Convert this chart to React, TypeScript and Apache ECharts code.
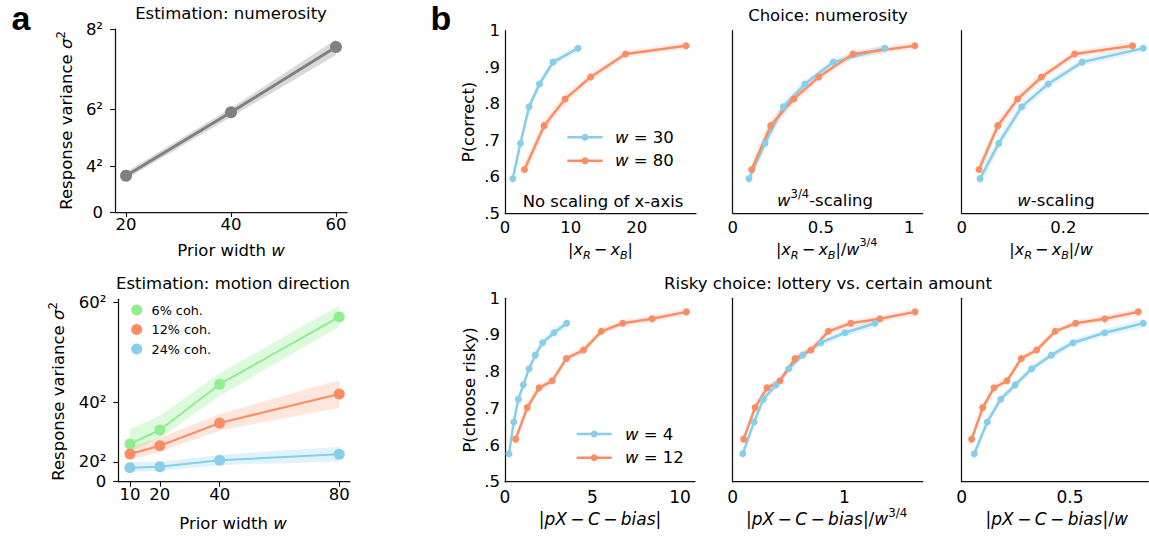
import React, { useEffect, useRef } from 'react';
import * as echarts from 'echarts';

const F = 'DejaVu Sans';
const BLUE = '#87CEEB';
const ORANGE = '#FC8D62';
const GREEN = '#90EE90';
const GRAY = '#808080';
const AX = '#111111';

// ---------- Panel a (top): numerosity estimation ----------
const numWidths = [20, 40, 60];
const numVar = [12.7, 34.9, 57.7];
const numVarLo = [11.5, 33.2, 54.9];
const numVarHi = [14.0, 36.4, 60.3];
const numWidthTicks = [20, 40, 60];
const numVarTicks = [0, 16, 36, 64];
const numVarTickLabels = ['0', '4²', '6²', '8²'];

// ---------- Panel a (bottom): motion direction ----------
const motionWidths = [10, 20, 40, 80];
const motionWidthTicks = [10, 20, 40, 80];
const motionVarTicks = [0, 400, 1600, 3600];
const motionVarTickLabels = ['0', '20²', '40²', '60²'];
const cohNames = ['6% coh.', '12% coh.', '24% coh.'];
const coh6 = [758, 1040, 1960, 3313];
const coh6Lo = [600, 880, 1724, 3119];
const coh6Hi = [1060, 1328, 2181, 3541];
const coh12 = [557, 724, 1181, 1765];
const coh12Lo = [437, 604, 1026, 1489];
const coh12Hi = [704, 885, 1362, 2046];
const coh24 = [282, 302, 430, 551];
const coh24Lo = [201, 215, 336, 402];
const coh24Hi = [402, 402, 537, 704];

// ---------- Panel b (top): choice numerosity ----------
const numY30 = [0.595, 0.692, 0.792, 0.854, 0.914, 0.952];
const numY80 = [0.620, 0.740, 0.813, 0.873, 0.936, 0.959];
const numSE30 = [0.02, 0.018, 0.015, 0.012, 0.01, 0.01];
const numSE80 = [0.02, 0.018, 0.015, 0.012, 0.01, 0.01];
const numRawX30 = [1.18, 2.35, 3.67, 5.23, 7.30, 11.09];
const numRawX80 = [2.95, 5.94, 9.12, 13.0, 18.3, 27.5];
const num34X30 = [0.092, 0.183, 0.287, 0.409, 0.570, 0.862];
const num34X80 = [0.108, 0.215, 0.345, 0.487, 0.681, 1.032];
const numWX30 = [0.036, 0.073, 0.118, 0.170, 0.237, 0.357];
const numWX80 = [0.034, 0.071, 0.110, 0.157, 0.222, 0.336];

// ---------- Panel b (bottom): risky choice ----------
const riskY4 = [0.576, 0.663, 0.725, 0.764, 0.808, 0.845, 0.879, 0.906, 0.932];
const riskY12 = [0.616, 0.702, 0.756, 0.775, 0.836, 0.859, 0.910, 0.932, 0.944, 0.963];
const riskSE4 = [0.012, 0.012, 0.011, 0.01, 0.01, 0.01, 0.01, 0.01, 0.012];
const riskSE12 = [0.012, 0.012, 0.011, 0.01, 0.01, 0.01, 0.01, 0.01, 0.01, 0.01];
const riskRawX4 = [0.23, 0.50, 0.76, 1.05, 1.37, 1.73, 2.15, 2.80, 3.53];
const riskRawX12 = [0.61, 1.27, 1.95, 2.70, 3.51, 4.49, 5.51, 6.73, 8.41, 10.37];
const risk34X4 = [0.090, 0.191, 0.274, 0.388, 0.501, 0.627, 0.788, 1.005, 1.274];
const risk34X12 = [0.098, 0.200, 0.307, 0.423, 0.558, 0.701, 0.856, 1.056, 1.318, 1.632];
const riskWX4 = [0.058, 0.118, 0.180, 0.247, 0.323, 0.414, 0.514, 0.660, 0.838];
const riskWX12 = [0.046, 0.097, 0.149, 0.209, 0.275, 0.346, 0.431, 0.526, 0.660, 0.815];

const bXTicks = [[0, 10, 20], [0, 0.5, 1], [0, 0.2], [0, 5, 10], [0, 1], [0, 0.5]];
const bXMax = [29.0, 1.076, 0.367, 10.86, 1.70, 0.861];

const FS = 16.5;
const TS = '\u2009';
const MINUS = `{n|${TS}−${TS}}`;

const richBase = (fs: number) => ({
  n: { fontSize: fs, fontFamily: F, lineHeight: 24, verticalAlign: 'middle', fill: '#000' },
  i: { fontSize: fs, fontFamily: F, fontStyle: 'italic', lineHeight: 24, verticalAlign: 'middle', fill: '#000' },
  sub: { fontSize: fs * 0.7, fontFamily: F, fontStyle: 'italic', lineHeight: 13, verticalAlign: 'bottom', fill: '#000' },
  sup: { fontSize: fs * 0.7, fontFamily: F, lineHeight: 13, verticalAlign: 'top', fill: '#000' },
});

function txt(x: number, y: number, text: string, opts: any = {}) {
  const fs = opts.fontSize || FS;
  return {
    type: 'text',
    x,
    y,
    rotation: opts.rotation || 0,
    silent: true,
    z: 100,
    style: {
      text,
      x: 0,
      y: 0,
      fill: '#000',
      fontSize: fs,
      fontFamily: opts.fontFamily || F,
      fontWeight: opts.fontWeight || 'normal',
      align: opts.align || 'center',
      verticalAlign: 'middle',
      rich: richBase(fs),
    },
  };
}

function band(idx: number, xs: number[], lo: number[], hi: number[], color: string, opacity = 0.22) {
  return {
    type: 'custom',
    xAxisIndex: idx,
    yAxisIndex: idx,
    silent: true,
    z: 1,
    data: [[xs[0], lo[0]]],
    renderItem: (_p: any, api: any) => {
      const up = xs.map((x, i) => api.coord([x, hi[i]]));
      const dn = xs.map((x, i) => api.coord([x, lo[i]])).reverse();
      return {
        type: 'polygon',
        shape: { points: up.concat(dn) },
        style: { fill: color, opacity },
      };
    },
  };
}

function line(idx: number, xs: number[], ys: number[], color: string, width: number, size: number, name: string) {
  return {
    type: 'line',
    name,
    xAxisIndex: idx,
    yAxisIndex: idx,
    z: 3,
    data: xs.map((x, i) => [x, ys[i]]),
    symbol: 'circle',
    symbolSize: size,
    showSymbol: true,
    lineStyle: { color, width },
    itemStyle: { color },
    emphasis: { disabled: true },
  };
}

export default function App() {
  const ref = useRef<HTMLDivElement>(null);
  useEffect(() => {
    if (!ref.current) return;
    const chart = echarts.init(ref.current, undefined, { renderer: 'svg' });

    const grids = [
      { left: 115, top: 29, width: 232, height: 183 },
      { left: 118.3, top: 299.3, width: 231.7, height: 182.4 },
      { left: 505, top: 30.7, width: 191, height: 182.6 },
      { left: 732.7, top: 30.7, width: 190, height: 182.6 },
      { left: 961.7, top: 30.7, width: 186.6, height: 182.6 },
      { left: 505, top: 298.3, width: 190, height: 183.4 },
      { left: 732.7, top: 298.3, width: 190, height: 183.4 },
      { left: 961.7, top: 298.3, width: 186.6, height: 183.4 },
    ];

    const axLine = { show: true, lineStyle: { color: AX, width: 1.25 } };
    const labelStyle = { fontSize: FS, fontFamily: F, color: '#000' };

    const xAxes: any[] = [
      {
        gridIndex: 0, type: 'value', min: 17.9, max: 62.1,
        axisLine: axLine,
        axisTick: { show: true, length: 5, customValues: numWidthTicks, lineStyle: { color: AX, width: 1.1 } },
        axisLabel: { ...labelStyle, customValues: numWidthTicks, margin: 4 },
        splitLine: { show: false },
      },
      {
        gridIndex: 1, type: 'value', min: 6.1, max: 83.6,
        axisLine: axLine,
        axisTick: { show: true, length: 5, customValues: motionWidthTicks, lineStyle: { color: AX, width: 1.1 } },
        axisLabel: { ...labelStyle, customValues: motionWidthTicks, margin: 4 },
        splitLine: { show: false },
      },
    ];
    const yAxes: any[] = [
      {
        gridIndex: 0, type: 'value', min: 0, max: 64,
        axisLine: axLine,
        axisTick: { show: true, length: 5, customValues: numVarTicks, lineStyle: { color: AX, width: 1.1 } },
        axisLabel: {
          ...labelStyle, customValues: numVarTicks, margin: 12,
          formatter: (v: number) => {
            const k = numVarTicks.findIndex((t) => Math.abs(t - v) < 1e-6);
            return k >= 0 ? numVarTickLabels[k] : '';
          },
        },
        splitLine: { show: false },
      },
      {
        gridIndex: 1, type: 'value', min: 0, max: 3668,
        axisLine: axLine,
        axisTick: { show: true, length: 5, customValues: motionVarTicks, lineStyle: { color: AX, width: 1.1 } },
        axisLabel: {
          ...labelStyle, customValues: motionVarTicks, margin: 12,
          formatter: (v: number) => {
            const k = motionVarTicks.findIndex((t) => Math.abs(t - v) < 1e-6);
            return k >= 0 ? motionVarTickLabels[k] : '';
          },
        },
        splitLine: { show: false },
      },
    ];
    for (let k = 0; k < 6; k++) {
      const gi = k + 2;
      xAxes.push({
        gridIndex: gi, type: 'value', min: 0, max: bXMax[k],
        axisLine: axLine,
        axisTick: { show: false },
        axisLabel: { ...labelStyle, customValues: bXTicks[k], margin: k < 3 ? 6 : 7, fontSize: k < 3 ? FS : 17 },
        splitLine: { show: false },
      });
      yAxes.push({
        gridIndex: gi, type: 'value', min: 0.5, max: 1, interval: 0.1,
        axisLine: axLine,
        axisTick: { show: false },
        axisLabel: {
          ...labelStyle,
          show: k === 0 || k === 3,
          margin: 5,
          formatter: (v: number) => (v > 0.999 ? '1' : '.' + Math.round(v * 10)),
        },
        splitLine: { show: false },
      });
    }

    const pm = (ys: number[], se: number[], s: number) => ys.map((y, i) => y + s * se[i]);

    const series: any[] = [
      band(0, numWidths, numVarLo, numVarHi, GRAY, 0.3),
      line(0, numWidths, numVar, GRAY, 3, 12, 'numerosity'),
      band(1, motionWidths, coh6Lo, coh6Hi, GREEN, 0.3),
      band(1, motionWidths, coh12Lo, coh12Hi, ORANGE, 0.22),
      band(1, motionWidths, coh24Lo, coh24Hi, BLUE, 0.25),
      line(1, motionWidths, coh6, GREEN, 2, 11, cohNames[0]),
      line(1, motionWidths, coh12, ORANGE, 2, 11, cohNames[1]),
      line(1, motionWidths, coh24, BLUE, 2, 11, cohNames[2]),
    ];
    const numX30 = [numRawX30, num34X30, numWX30];
    const numX80 = [numRawX80, num34X80, numWX80];
    const riskX4 = [riskRawX4, risk34X4, riskWX4];
    const riskX12 = [riskRawX12, risk34X12, riskWX12];
    for (let k = 0; k < 3; k++) {
      series.push(band(k + 2, numX30[k], pm(numY30, numSE30, -1), pm(numY30, numSE30, 1), BLUE, 0.2));
      series.push(band(k + 2, numX80[k], pm(numY80, numSE80, -1), pm(numY80, numSE80, 1), ORANGE, 0.15));
      series.push(line(k + 2, numX30[k], numY30, BLUE, 2.5, 7, 'w30'));
      series.push(line(k + 2, numX80[k], numY80, ORANGE, 2.5, 7, 'w80'));
      series.push(band(k + 5, riskX4[k], pm(riskY4, riskSE4, -1), pm(riskY4, riskSE4, 1), BLUE, 0.2));
      series.push(band(k + 5, riskX12[k], pm(riskY12, riskSE12, -1), pm(riskY12, riskSE12, 1), ORANGE, 0.15));
      series.push(line(k + 5, riskX4[k], riskY4, BLUE, 2.5, 7, 'w4'));
      series.push(line(k + 5, riskX12[k], riskY12, ORANGE, 2.5, 7, 'w12'));
    }

    const legendLine = (x1: number, x2: number, y: number, color: string) => [
      { type: 'line', silent: true, z: 100, shape: { x1, y1: y, x2, y2: y }, style: { stroke: color, lineWidth: 2.5 } },
      { type: 'circle', silent: true, z: 101, shape: { cx: (x1 + x2) / 2, cy: y, r: 3.5 }, style: { fill: color } },
    ];

    const xrxb = `{n||}{i|x}{sub|R}${MINUS}{i|x}{sub|B}{n||}`;
    const pxcb = `{n||}{i|pX}${MINUS}{i|C}${MINUS}{i|bias}{n||}`;

    const graphic: any[] = [
      txt(21, 18, 'a', { fontSize: 34, fontWeight: 'bold', fontFamily: 'Liberation Sans' }),
      txt(441, 18, 'b', { fontSize: 34, fontWeight: 'bold', fontFamily: 'Liberation Sans' }),
      txt(231, 13.5, 'Estimation: numerosity'),
      txt(233, 283.5, 'Estimation: motion direction'),
      txt(828, 15, 'Choice: numerosity'),
      txt(828, 283.5, 'Risky choice: lottery vs. certain amount'),
      txt(66.5, 120.5, '{n|Response variance }{i|σ}{sup|2}', { rotation: Math.PI / 2 }),
      txt(58.5, 391.5, '{n|Response variance }{i|σ}{sup|2}', { rotation: Math.PI / 2 }),
      txt(231, 250, '{n|Prior width }{i|w}'),
      txt(233, 523, '{n|Prior width }{i|w}'),
      txt(468, 122, 'P(correct)', { rotation: Math.PI / 2 }),
      txt(469, 390, 'P(choose risky)', { rotation: Math.PI / 2 }),
      txt(603, 201.5, 'No scaling of x-axis'),
      txt(825, 200, '{i|w}{sup|3/4}{n|-scaling}'),
      txt(1056, 200, '{i|w}{n|-scaling}'),
      txt(600.5, 249, xrxb, { fontSize: 16 }),
      txt(826.7, 249, `${xrxb}{n|/}{i|w}{sup|3/4}`, { fontSize: 16 }),
      txt(1051, 249, `${xrxb}{n|/}{i|w}`, { fontSize: 16 }),
      txt(600, 518.5, pxcb, { fontSize: 17 }),
      txt(826.7, 518.5, `${pxcb}{n|/}{i|w}{sup|3/4}`, { fontSize: 17 }),
      txt(1056.7, 518.5, `${pxcb}{n|/}{i|w}`, { fontSize: 17 }),
      // legend a bottom
      { type: 'circle', silent: true, z: 101, shape: { cx: 136.7, cy: 310, r: 5.5 }, style: { fill: GREEN } },
      { type: 'circle', silent: true, z: 101, shape: { cx: 136.7, cy: 329.5, r: 5.5 }, style: { fill: ORANGE } },
      { type: 'circle', silent: true, z: 101, shape: { cx: 136.7, cy: 349, r: 5.5 }, style: { fill: BLUE } },
      txt(151.5, 310, cohNames[0], { align: 'left', fontSize: 12.8 }),
      txt(151.5, 329.5, cohNames[1], { align: 'left', fontSize: 12.8 }),
      txt(151.5, 349, cohNames[2], { align: 'left', fontSize: 12.8 }),
      // legend b top
      ...legendLine(567.3, 602.7, 137.3, BLUE),
      ...legendLine(567.3, 602.7, 160.7, ORANGE),
      txt(615, 137.3, '{i|w}{n| = 30}', { align: 'left' }),
      txt(615, 160.7, '{i|w}{n| = 80}', { align: 'left' }),
      // legend b bottom
      ...legendLine(576.7, 611.7, 434, BLUE),
      ...legendLine(576.7, 611.7, 457.7, ORANGE),
      txt(625, 434, '{i|w}{n| = 4}', { align: 'left' }),
      txt(625, 457.7, '{i|w}{n| = 12}', { align: 'left' }),
    ];

    chart.setOption({
      animation: false,
      backgroundColor: '#ffffff',
      grid: grids.map((g) => ({ ...g, containLabel: false })),
      xAxis: xAxes,
      yAxis: yAxes,
      series,
      graphic,
    });
    return () => chart.dispose();
  }, []);
  return (
    <div
      ref={ref}
      style={{ position: 'absolute', left: 0, top: 0, width: 1149, height: 536, background: '#fff' }}
    />
  );
}
